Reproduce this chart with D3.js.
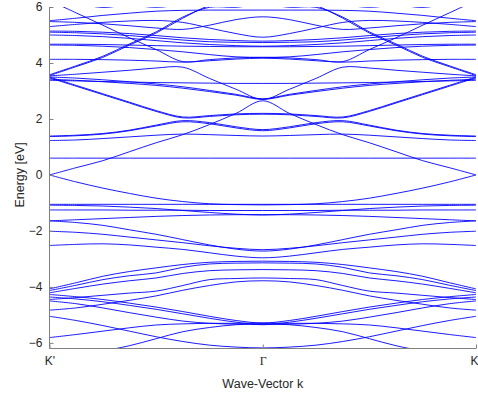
<!DOCTYPE html>
<html>
<head>
<meta charset="utf-8">
<script src="https://cdn.jsdelivr.net/npm/d3@7"></script>
<style>
  html, body { margin: 0; padding: 0; background: #fff; }
  svg { display: block; }
  text { font-family: "Liberation Sans", Arial, Helvetica, sans-serif; fill: #262626; }
</style>
</head>
<body>
<svg id="chart" width="478" height="396"></svg>
<script>
// Sample points along half of the path, K' (0) to Γ (0.5); the Γ → K half is its mirror image.
const kHalf = [0, 0.0625, 0.125, 0.1875, 0.25, 0.3125, 0.375, 0.4375, 0.5];

// Conduction-side bands above ~3 eV (energies in eV at kHalf)
const bandsUpper = [
  [6.23, 5.79, 5.35, 4.90, 4.48, 4.05, 4.12, 4.18, 4.20],
  [4.13, 4.13, 4.12, 4.10, 4.07, 4.03, 4.08, 4.14, 4.17],
  [3.55, 3.87, 4.20, 4.64, 5.07, 5.60, 6.05, 6.25, 6.30],
  [3.58, 3.90, 4.24, 4.68, 5.11, 5.64, 5.99, 5.99, 6.10],
  [6.40, 6.15, 5.985, 6.10, 6.20, 6.30, 6.35, 6.40, 6.40],
  [6.50, 6.40, 6.30, 6.10, 5.99, 6.10, 6.30, 6.40, 6.50],
  [5.51, 5.60, 5.70, 5.78, 5.85, 5.88, 5.89, 5.89, 5.89],
  [5.48, 5.45, 5.40, 5.33, 5.25, 5.20, 5.35, 5.55, 5.65],
  [5.30, 5.38, 5.45, 5.50, 5.52, 5.45, 5.25, 5.05, 4.92],
  [5.14, 5.13, 5.10, 5.05, 4.98, 4.90, 4.84, 4.80, 4.78],
  [5.10, 5.08, 5.04, 4.98, 4.90, 4.82, 4.76, 4.74, 4.73],
  [5.00, 4.98, 4.94, 4.88, 4.80, 4.72, 4.66, 4.62, 4.60],
  [4.67, 4.67, 4.66, 4.64, 4.62, 4.60, 4.59, 4.58, 4.58],
  [4.64, 4.63, 4.60, 4.55, 4.48, 4.40, 4.30, 4.22, 4.20],
  [3.54, 3.60, 3.67, 3.74, 3.82, 3.85, 3.45, 3.06, 2.70],
  [3.50, 3.46, 3.40, 3.33, 3.25, 3.15, 3.02, 2.88, 2.72],
  [3.42, 3.38, 3.33, 3.27, 3.20, 3.10, 2.98, 2.85, 2.70],
  [3.38, 3.36, 3.34, 3.32, 3.30, 3.29, 3.28, 3.27, 3.27],
  [3.50, 3.20, 2.90, 2.60, 2.30, 2.07, 2.12, 2.18, 2.20],
  [3.47, 3.17, 2.87, 2.57, 2.27, 2.04, 2.09, 2.15, 2.17]
];

// Bands near the Fermi level, including the Dirac cone at K' / K
const bandsMiddle = [
  [0.00, 0.26, 0.51, 0.83, 1.15, 1.44, 1.80, 2.20, 2.65],
  [0.00, -0.25, -0.47, -0.66, -0.83, -0.95, -1.03, -1.06, -1.07],
  [0.60, 0.60, 0.60, 0.60, 0.60, 0.60, 0.60, 0.60, 0.60],
  [1.37, 1.40, 1.46, 1.58, 1.75, 1.90, 1.83, 1.68, 1.58],
  [1.39, 1.42, 1.48, 1.60, 1.78, 1.94, 1.87, 1.72, 1.62],
  [1.23, 1.25, 1.30, 1.36, 1.42, 1.46, 1.44, 1.41, 1.39],
  [-1.05, -1.05, -1.05, -1.05, -1.05, -1.05, -1.05, -1.05, -1.05],
  [-1.08, -1.09, -1.11, -1.15, -1.20, -1.27, -1.34, -1.40, -1.43],
  [-1.25, -1.25, -1.25, -1.26, -1.26, -1.26, -1.27, -1.27, -1.27],
  [-1.64, -1.60, -1.56, -1.52, -1.48, -1.45, -1.43, -1.42, -1.42],
  [-1.64, -1.70, -1.80, -1.96, -2.12, -2.31, -2.50, -2.65, -2.72],
  [-2.01, -2.05, -2.12, -2.22, -2.32, -2.42, -2.53, -2.62, -2.67],
  [-2.52, -2.48, -2.46, -2.50, -2.58, -2.66, -2.78, -2.90, -2.96]
];

// Valence-side bands below ~-3 eV
const bandsLower = [
  [-4.07, -3.85, -3.62, -3.45, -3.32, -3.20, -3.12, -3.09, -3.08],
  [-4.13, -3.94, -3.74, -3.60, -3.50, -3.30, -3.18, -3.15, -3.14],
  [-4.21, -4.05, -3.90, -3.78, -3.68, -3.52, -3.42, -3.39, -3.38],
  [-4.45, -4.38, -4.30, -4.22, -4.15, -3.95, -3.74, -3.70, -3.68],
  [-4.27, -4.35, -4.45, -4.58, -4.72, -4.88, -5.05, -5.20, -5.29],
  [-4.36, -4.43, -4.53, -4.66, -4.80, -4.96, -5.12, -5.26, -5.35],
  [-4.50, -4.60, -4.75, -4.92, -5.08, -5.22, -5.30, -5.33, -5.33],
  [-4.83, -4.75, -4.62, -4.48, -4.32, -4.12, -3.95, -3.82, -3.78],
  [-5.05, -5.20, -5.38, -5.58, -5.78, -5.95, -6.08, -6.15, -6.18],
  [-5.81, -5.70, -5.58, -5.46, -5.36, -5.32, -5.30, -5.30, -5.29],
  [-6.40, -6.35, -6.28, -6.10, -5.85, -5.60, -5.45, -5.35, -5.32]
];

const xTickValues = [0, 0.5, 1];
const xTickLabels = ["K'", "\u0393", "K"];
const yTickValues = [-6, -4, -2, 0, 2, 4, 6];

const svg = d3.select("#chart");
const margin = { left: 49.5, right: 2, top: 7, bottom: 47.5 };
const W = 478, H = 396;

const x = d3.scaleLinear().domain([0, 1]).range([margin.left, W - margin.right]);
const y = d3.scaleLinear().domain([-6.2, 6]).range([H - margin.bottom, margin.top]);

svg.append("defs").append("clipPath").attr("id", "plotClip")
  .append("rect")
  .attr("x", x(0)).attr("y", y(6))
  .attr("width", x(1) - x(0)).attr("height", y(-6.2) - y(6));

// Expand a half-path band into the full K' → Γ → K path
function fullPath(half) {
  const pts = half.map((e, i) => [kHalf[i], e]);
  for (let i = half.length - 2; i >= 0; i--) pts.push([1 - kHalf[i], half[i]]);
  return pts;
}

const line = d3.line()
  .x(d => x(d[0]))
  .y(d => y(d[1]))
  .curve(d3.curveCatmullRom.alpha(0.5));

const allBands = bandsUpper.concat(bandsMiddle, bandsLower);

svg.append("g").attr("clip-path", "url(#plotClip)")
  .selectAll("path")
  .data(allBands)
  .join("path")
  .attr("d", b => line(fullPath(b)))
  .attr("fill", "none")
  .attr("stroke", "#0000ff")
  .attr("stroke-width", 0.9);

// Axes (left and bottom only, ticks pointing inward)
const yAxis = d3.axisLeft(y).tickValues(yTickValues).tickSizeInner(-4).tickSizeOuter(0).tickPadding(7)
  .tickFormat(d3.format("d"));
const gy = svg.append("g").attr("transform", `translate(${x(0)},0)`).call(yAxis);
gy.select(".domain").remove();
gy.append("line").attr("x1", 0).attr("x2", 0).attr("y1", y(6)).attr("y2", y(-6.2))
  .attr("stroke", "#808080").attr("stroke-width", 1);
gy.selectAll(".tick line").attr("stroke", "#808080");
gy.selectAll(".tick text").attr("font-size", 12).attr("fill", "#262626")
  .style("font-family", "'Liberation Sans', Arial, sans-serif");

const xAxis = d3.axisBottom(x).tickValues(xTickValues).tickSizeInner(-4).tickSizeOuter(0).tickPadding(8)
  .tickFormat((d, i) => xTickLabels[i]);
const gx = svg.append("g").attr("transform", `translate(0,${y(-6.2)})`).call(xAxis);
gx.select(".domain").remove();
gx.append("line").attr("x1", x(0)).attr("x2", x(1)).attr("y1", 0).attr("y2", 0)
  .attr("stroke", "#808080").attr("stroke-width", 1);
gx.selectAll(".tick line").attr("stroke", "#808080");
gx.selectAll(".tick text").attr("font-size", 12).attr("fill", "#262626")
  .style("font-family", (d, i) => i === 1 ? "'Liberation Serif', 'Times New Roman', serif" : "'Liberation Sans', Arial, sans-serif")
  .attr("text-anchor", (d, i) => i === 2 ? "end" : "middle")
  .attr("dx", (d, i) => i === 2 ? 2 : 0);

svg.append("text")
  .attr("x", (x(0) + x(1)) / 2).attr("y", 388)
  .attr("text-anchor", "middle").attr("font-size", 12.5)
  .text("Wave-Vector k");

svg.append("text")
  .attr("transform", `translate(24,${y(0)}) rotate(-90)`)
  .attr("text-anchor", "middle").attr("font-size", 12.5)
  .text("Energy [eV]");
</script>
</body>
</html>
